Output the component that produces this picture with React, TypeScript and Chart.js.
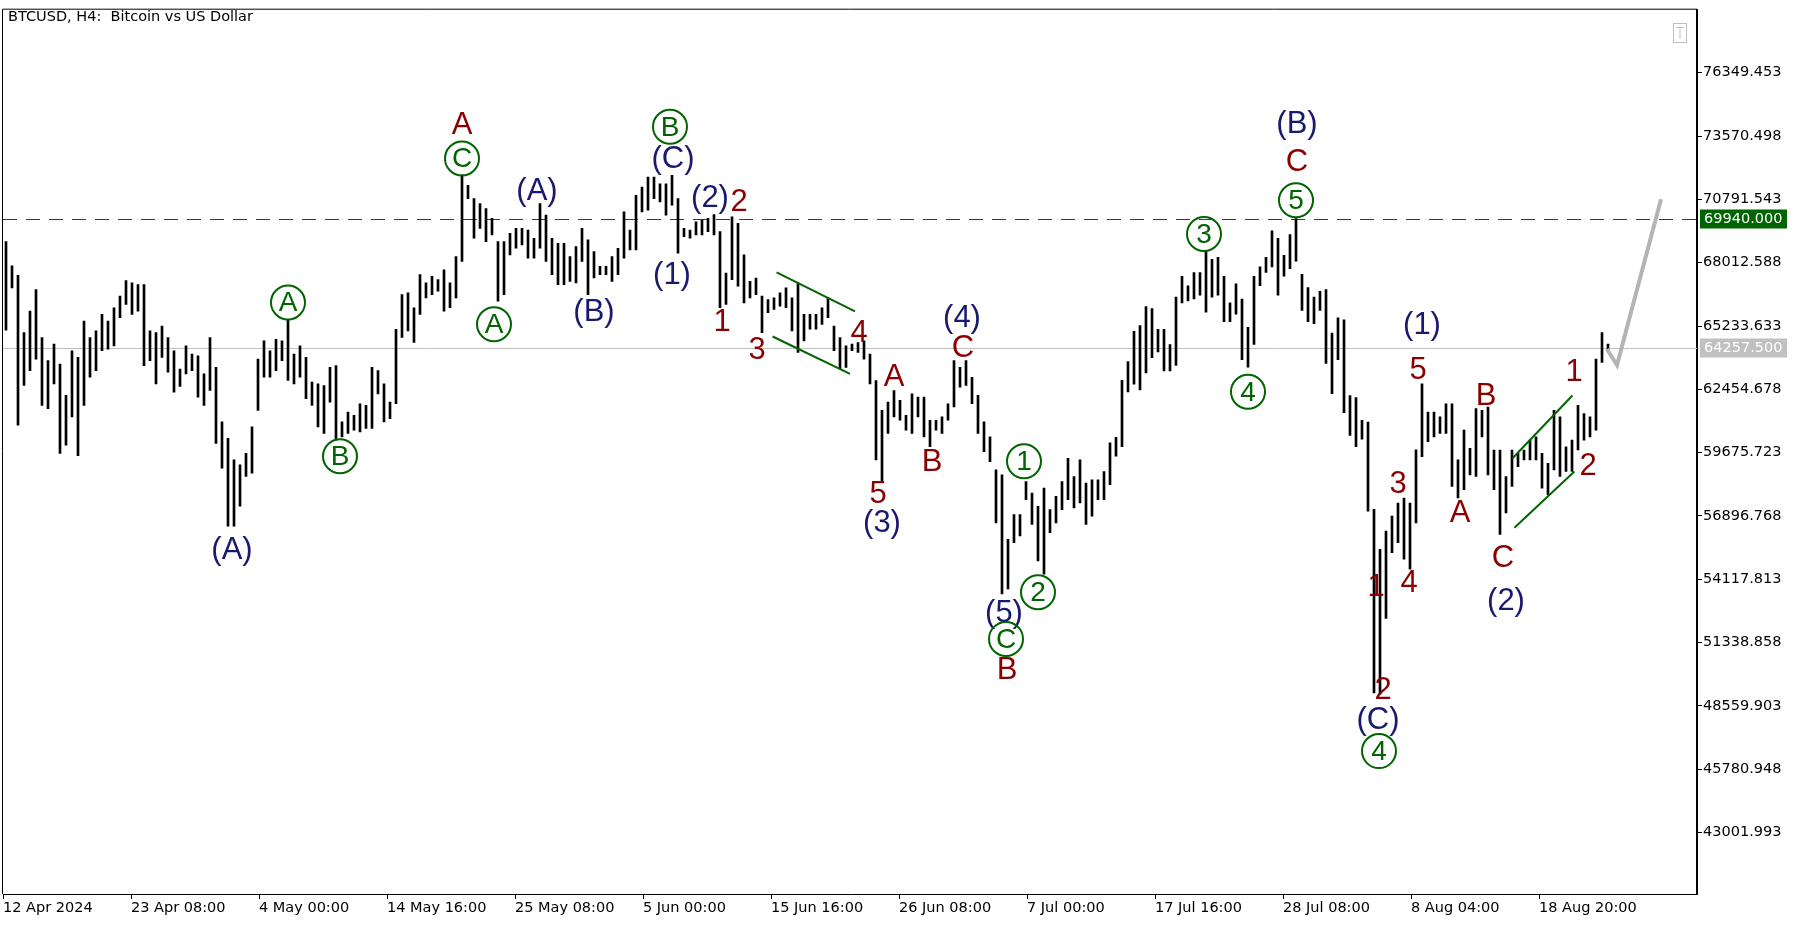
import React, { useEffect, useRef } from "react";
import { Chart, registerables } from "chart.js";

Chart.register(...registerables);

const TITLE = "BTCUSD, H4:  Bitcoin vs US Dollar";

// Each entry = one group of three consecutive H4 bars (12 h), from 12 Apr 2024 00:00
const BARS_PER_GROUP = 3;
const GROUP_HIGHS = [
  68938, 67878, 67457, 64945, 65889, 66832, 64727, 63711, 64437, 63566,
  62186, 64146, 63856, 65453, 64727, 65017, 65743, 65453, 66034, 66542,
  67224, 67123, 67050, 67050, 65017, 64945, 65235, 64727, 64146, 63348,
  64364, 64001, 63928, 63130, 64727, 63420, 61025, 60299, 59355, 59137,
  59645, 60807, 63783, 64582, 64146, 64654, 64582, 65482, 64001, 64364,
  63856, 62767, 62694, 62622, 63420, 63493, 61025, 61460, 61315, 61823,
  61751, 63420, 63275, 62694, 61896, 65090, 66614, 66687, 66034, 67486,
  67123, 67413, 67268, 67703, 67123, 68284, 71870, 71406, 70825, 70607,
  70389, 69954, 68938, 68938, 69301, 69518, 69518, 69446, 69083, 70607,
  70099, 69083, 68865, 68865, 68284, 68720, 69518, 69010, 68502, 67849,
  67849, 68284, 68647, 70244, 69446, 70970, 71333, 71769, 71769, 71478,
  71478, 71841, 70825, 69518, 69446, 69809, 69881, 69954, 70128, 69373,
  67558, 70027, 69736, 68357, 67195, 67340, 66542, 66397, 66469, 66687,
  66905, 66469, 67123, 65743, 65743, 65743, 66034, 66469, 65235, 64727,
  64364, 64437, 64509, 64582, 64001, 62840, 61533, 61896, 62404, 61968,
  61315, 62259, 62114, 62114, 61097, 61097, 61242, 61823, 63711, 63420,
  63711, 62985, 62186, 61025, 60371, 58919, 58702, 55870, 56959, 56959,
  58411, 57903, 57322, 58121, 57177, 57758, 58411, 59428, 58629, 59355,
  58339, 58484, 58484, 58847, 60101, 60350, 62844, 63675, 65005, 65254,
  66086, 66003, 65088, 65088, 64423, 66501, 67416, 67000, 67582, 67582,
  68496, 68164, 68247, 67416, 66252, 67083, 66418, 65171, 67416, 67831,
  68247, 69411, 69078, 68330, 69244, 69943, 67499, 66917, 66501, 66751,
  66834, 64922, 65587, 65504, 62179, 62096, 61098, 61015, 57191, 55435,
  56233, 56887, 57467, 57685, 57467, 59795, 62694, 61460, 61460, 61242,
  61823, 61823, 59355, 60662, 59863, 61605, 61533, 61678, 59790, 59790,
  58629, 59790, 59645, 59790, 60226, 60371, 59645, 59210, 61533, 61242,
  59935, 60226, 61751, 61388, 61242, 63783, 64945, 64437,
];
const GROUP_LOWS = [
  65046, 66905, 60880, 62622, 63275, 63783, 61751, 61605, 62694, 59645,
  60008, 61242, 59544, 61751, 62985, 63275, 64146, 64219, 64364, 65598,
  66179, 65743, 65889, 63493, 63711, 62694, 63856, 63202, 62331, 62578,
  63130, 63275, 62114, 61751, 62404, 60081, 58992, 56451, 56451, 57322,
  58629, 58774, 61533, 62985, 62985, 63275, 63711, 62840, 62694, 62985,
  62041, 61751, 60807, 60516, 61896, 60226, 60371, 60516, 60662, 60589,
  60734, 60734, 62258, 61025, 61170, 61823, 64727, 65017, 64509, 65743,
  66469, 66614, 66760, 65888, 66034, 66469, 68066, 70825, 69083, 69518,
  68938, 69228, 66324, 66614, 68357, 68647, 68792, 68212, 68212, 68647,
  68066, 67486, 67050, 67050, 67195, 67123, 68066, 66614, 67340, 67486,
  67486, 67195, 67486, 68212, 68574, 68574, 70244, 70317, 70825, 70680,
  70099, 70535, 68429, 69155, 69083, 69228, 69228, 69373, 69228, 66034,
  66179, 67268, 66977, 66251, 66469, 66614, 64944, 65816, 65961, 66106,
  66034, 65017, 64074, 64582, 65090, 65090, 65308, 65598, 64146, 63348,
  63420, 64146, 64074, 63783, 62694, 59355, 58411, 60516, 61242, 61097,
  60662, 60516, 61242, 60371, 59936, 60662, 60516, 61097, 61678, 62549,
  62622, 61823, 60516, 59718, 59282, 56596, 53475, 53693, 55725, 56016,
  57613, 56524, 54927, 54346, 56161, 56596, 57177, 57613, 57250, 57467,
  56524, 56887, 57613, 57613, 58272, 59519, 59935, 62345, 62678, 62428,
  63176, 63841, 64091, 63259, 63259, 63509, 66252, 66335, 66418, 66584,
  65836, 66501, 66584, 65421, 65421, 65753, 63758, 63426, 64423, 67000,
  67582, 67831, 66584, 67416, 67748, 68081, 65919, 65421, 65338, 65919,
  63592, 62262, 63758, 61430, 60433, 59935, 60267, 57108, 49128, 49060,
  52400, 55290, 55725, 54999, 54564, 56596, 59500, 60153, 60371, 60516,
  60516, 58193, 57685, 58048, 58702, 58629, 60371, 58702, 58048, 56088,
  57032, 58193, 59064, 59355, 59355, 59355, 58121, 57830, 58919, 58629,
  58847, 58847, 59790, 60226, 60371, 60661, 63638, 64146,
];

// X axis is measured in H4 bar numbers
const X_MIN = 0;
const X_MAX = 847;
const X_TICK_BARS = [0, 64, 128, 192, 256, 320, 384, 448, 512, 576, 640, 704, 768];
const X_TICK_LABELS = [
  "12 Apr 2024", "23 Apr 08:00", "4 May 00:00", "14 May 16:00", "25 May 08:00",
  "5 Jun 00:00", "15 Jun 16:00", "26 Jun 08:00", "7 Jul 00:00", "17 Jul 16:00",
  "28 Jul 08:00", "8 Aug 04:00", "18 Aug 20:00",
];

const Y_MIN = 40306;
const Y_MAX = 79115;
const Y_TICK_VALUES = [
  43001.993, 45780.948, 48559.903, 51338.858, 54117.813, 56896.768, 59675.723,
  62454.678, 65233.633, 68012.588, 70791.543, 73570.498, 76349.453,
];

const TARGET_LEVEL = 69940;
const LAST_PRICE = 64257.5;

// [text, bar number, price, kind]  kind: r = dark red, n = navy, g = circled green
const WAVE_LABELS: [string, number, number, string][] = [
  ["(A)", 114.5, 55420, "n"],
  ["A", 142.5, 66266, "g"],
  ["B", 168.5, 59515, "g"],
  ["A", 229.5, 74063, "r"],
  ["C", 229.5, 72582, "g"],
  ["A", 245.5, 65308, "g"],
  ["(A)", 267, 71188, "n"],
  ["(B)", 295.5, 65874, "n"],
  ["B", 333.5, 73976, "g"],
  ["(C)", 335, 72582, "n"],
  ["(1)", 334.5, 67486, "n"],
  ["(2)", 353.5, 70883, "n"],
  ["2", 368, 70709, "r"],
  ["1", 359.5, 65438, "r"],
  ["3", 377, 64219, "r"],
  ["4", 428, 64959, "r"],
  ["A", 445.5, 62999, "r"],
  ["5", 437.5, 57903, "r"],
  ["(3)", 439.5, 56596, "n"],
  ["B", 464.5, 59297, "r"],
  ["(4)", 479.5, 65612, "n"],
  ["C", 480, 64306, "r"],
  ["1", 510.5, 59297, "g"],
  ["2", 517.5, 53547, "g"],
  ["(5)", 500.5, 52676, "n"],
  ["C", 501.5, 51500, "g"],
  ["B", 502, 50149, "r"],
  ["3", 600.5, 69271, "g"],
  ["4", 622.5, 62346, "g"],
  ["(B)", 647, 74106, "n"],
  ["C", 647, 72451, "r"],
  ["5", 646.5, 70752, "g"],
  ["1", 686.5, 53808, "r"],
  ["2", 690, 49275, "r"],
  ["(C)", 687.5, 47972, "n"],
  ["4", 688, 46578, "g"],
  ["3", 697.5, 58339, "r"],
  ["4", 703, 53983, "r"],
  ["5", 707.5, 63348, "r"],
  ["(1)", 709.5, 65308, "n"],
  ["A", 728.5, 57032, "r"],
  ["B", 741.5, 62172, "r"],
  ["C", 750, 55072, "r"],
  ["(2)", 751.5, 53199, "n"],
  ["1", 785.5, 63257, "r"],
  ["2", 792.5, 59119, "r"],
];

// channel lines and forecast path: [bar number, price]
const CHANNEL_1_UPPER = [[386.8, 67586], [426, 65874]];
const CHANNEL_1_LOWER = [[384.8, 64772], [423.5, 63130]];
const CHANNEL_2_UPPER = [[754.8, 59427], [784.7, 62185]];
const CHANNEL_2_LOWER = [[755.7, 56378], [785.7, 58848]];
const FORECAST_PATH = [[802, 64219], [807, 63522], [829, 70796]];

const AXIS_FONT = { family: "DejaVu Sans", size: 14.5 };
const LABEL_COLORS: Record<string, string> = { r: "#8b0000", n: "#191970", g: "#006400" };

const toXY = (pts: number[][]) => pts.map(([x, y]) => ({ x, y }));

const overlayPlugin = {
  id: "overlay",
  beforeDatasetsDraw(chart: any) {
    const { ctx, chartArea, scales } = chart;
    const ys = scales.y;
    ctx.save();
    ctx.lineWidth = 1;
    // target level (dashed green)
    let py = Math.round(ys.getPixelForValue(TARGET_LEVEL)) + 0.5;
    ctx.strokeStyle = "#006400";
    ctx.setLineDash([14, 9]);
    ctx.beginPath();
    ctx.moveTo(chartArea.left, py);
    ctx.lineTo(chartArea.right, py);
    ctx.stroke();
    // last price (solid gray)
    py = Math.round(ys.getPixelForValue(LAST_PRICE)) + 0.5;
    ctx.setLineDash([]);
    ctx.strokeStyle = "#c0c0c0";
    ctx.beginPath();
    ctx.moveTo(chartArea.left, py);
    ctx.lineTo(chartArea.right, py);
    ctx.stroke();
    ctx.restore();
  },
  afterDatasetsDraw(chart: any) {
    const { ctx, chartArea, scales } = chart;
    const xs = scales.x;
    const ys = scales.y;
    ctx.save();
    // frame top / left
    ctx.strokeStyle = "#000";
    ctx.lineWidth = 1;
    ctx.beginPath();
    ctx.moveTo(chartArea.left - 0.5, chartArea.bottom);
    ctx.lineTo(chartArea.left - 0.5, chartArea.top - 0.5);
    ctx.lineTo(chartArea.right, chartArea.top - 0.5);
    ctx.stroke();

    // wave labels
    ctx.textAlign = "center";
    ctx.textBaseline = "middle";
    for (const [text, bar, price, kind] of WAVE_LABELS) {
      const px = xs.getPixelForValue(bar);
      const py = ys.getPixelForValue(price);
      if (kind === "g") {
        ctx.beginPath();
        ctx.arc(px, py, 17, 0, Math.PI * 2);
        ctx.lineWidth = 2;
        ctx.strokeStyle = LABEL_COLORS.g;
        ctx.stroke();
        ctx.font = '28px "Liberation Sans", Arial, sans-serif';
        ctx.fillStyle = LABEL_COLORS.g;
        ctx.fillText(text, px, py + 1);
      } else {
        ctx.font = '31px "Liberation Sans", Arial, sans-serif';
        ctx.fillStyle = LABEL_COLORS[kind];
        ctx.fillText(text, px, py + 1);
      }
    }

    // title
    ctx.textAlign = "left";
    ctx.textBaseline = "alphabetic";
    ctx.fillStyle = "#000";
    ctx.font = '14.5px "DejaVu Sans"';
    ctx.fillText(TITLE, 8, 21);

    // "T" button
    ctx.strokeStyle = "#c0c0c0";
    ctx.lineWidth = 1;
    ctx.strokeRect(chartArea.right - 23.5, 23.5, 13, 19);
    ctx.beginPath();
    ctx.moveTo(chartArea.right - 21, 27.5);
    ctx.lineTo(chartArea.right - 13, 27.5);
    ctx.moveTo(chartArea.right - 17, 27.5);
    ctx.lineTo(chartArea.right - 17, 39);
    ctx.stroke();
    ctx.restore();
  },
  afterDraw(chart: any) {
    const { ctx, chartArea, scales } = chart;
    const ys = scales.y;
    ctx.save();
    const boxes: [number, string, string][] = [
      [TARGET_LEVEL, "#006400", TARGET_LEVEL.toFixed(3)],
      [LAST_PRICE, "#c0c0c0", LAST_PRICE.toFixed(3)],
    ];
    ctx.font = '14.5px "DejaVu Sans"';
    ctx.textBaseline = "middle";
    ctx.textAlign = "left";
    for (const [v, bg, txt] of boxes) {
      const py = Math.round(ys.getPixelForValue(v));
      ctx.fillStyle = bg;
      ctx.fillRect(chartArea.right + 3, py - 9.5, 87, 19);
      ctx.fillStyle = "#fff";
      ctx.fillText(txt, chartArea.right + 7, py + 0.5);
    }
    ctx.restore();
  },
};

export default function App() {
  const ref = useRef<HTMLCanvasElement>(null);
  useEffect(() => {
    document.body.style.margin = "0";
    const canvas = ref.current;
    if (!canvas) return;

    const bars = GROUP_HIGHS.map((h, i) => ({
      x: i * BARS_PER_GROUP + BARS_PER_GROUP / 2,
      y: [GROUP_LOWS[i], h],
    }));

    const lineDs = (pts: number[][], color: string, width: number, order = 2) => ({
      type: "line" as const,
      data: toXY(pts),
      borderColor: color,
      borderWidth: width,
      pointRadius: 0,
      tension: 0,
      fill: false,
      order,
    });

    const chart = new Chart(canvas, {
      type: "bar",
      data: {
        datasets: [
          {
            type: "bar" as const,
            data: bars as any,
            backgroundColor: "#000",
            borderWidth: 0,
            barThickness: 2,
            grouped: false,
            order: 3,
          },
          lineDs(CHANNEL_1_UPPER, "#006400", 2),
          lineDs(CHANNEL_1_LOWER, "#006400", 2),
          lineDs(CHANNEL_2_UPPER, "#006400", 2),
          lineDs(CHANNEL_2_LOWER, "#006400", 2),
          lineDs(FORECAST_PATH, "#b4b4b4", 4, 1),
        ] as any,
      },
      options: {
        animation: false,
        responsive: false,
        devicePixelRatio: 1,
        events: [],
        layout: { padding: { left: 3, top: 3, right: 0, bottom: 0 } },
        plugins: { legend: { display: false }, tooltip: { enabled: false } },
        scales: {
          x: {
            type: "linear",
            min: X_MIN,
            max: X_MAX,
            offset: false,
            grid: { drawOnChartArea: false, drawTicks: true, tickLength: 5, color: "#000", offset: false },
            border: { display: true, color: "#000", width: 1 },
            afterBuildTicks: (scale: any) => {
              scale.ticks = X_TICK_BARS.map((v) => ({ value: v }));
            },
            afterFit: (scale: any) => {
              scale.height = 33;
            },
            ticks: {
              autoSkip: false,
              maxRotation: 0,
              minRotation: 0,
              align: "start",
              padding: 1,
              color: "#000",
              font: AXIS_FONT,
              callback: (v: any) => {
                const i = X_TICK_BARS.indexOf(Number(v));
                return i >= 0 ? X_TICK_LABELS[i] : "";
              },
            },
          },
          y: {
            type: "linear",
            position: "right",
            min: Y_MIN,
            max: Y_MAX,
            grid: { drawOnChartArea: false, drawTicks: true, tickLength: 5, color: "#000" },
            border: { display: true, color: "#000", width: 2 },
            afterBuildTicks: (scale: any) => {
              scale.ticks = Y_TICK_VALUES.map((v) => ({ value: v }));
            },
            afterFit: (scale: any) => {
              scale.width = 105;
            },
            ticks: {
              autoSkip: false,
              padding: 1,
              color: "#000",
              font: AXIS_FONT,
              callback: (v: any) => Number(v).toFixed(3),
            },
          },
        },
      } as any,
      plugins: [overlayPlugin],
    });
    return () => chart.destroy();
  }, []);

  return (
    <canvas
      ref={ref}
      width={1802}
      height={927}
      style={{ display: "block", width: "1802px", height: "927px" }}
    />
  );
}
